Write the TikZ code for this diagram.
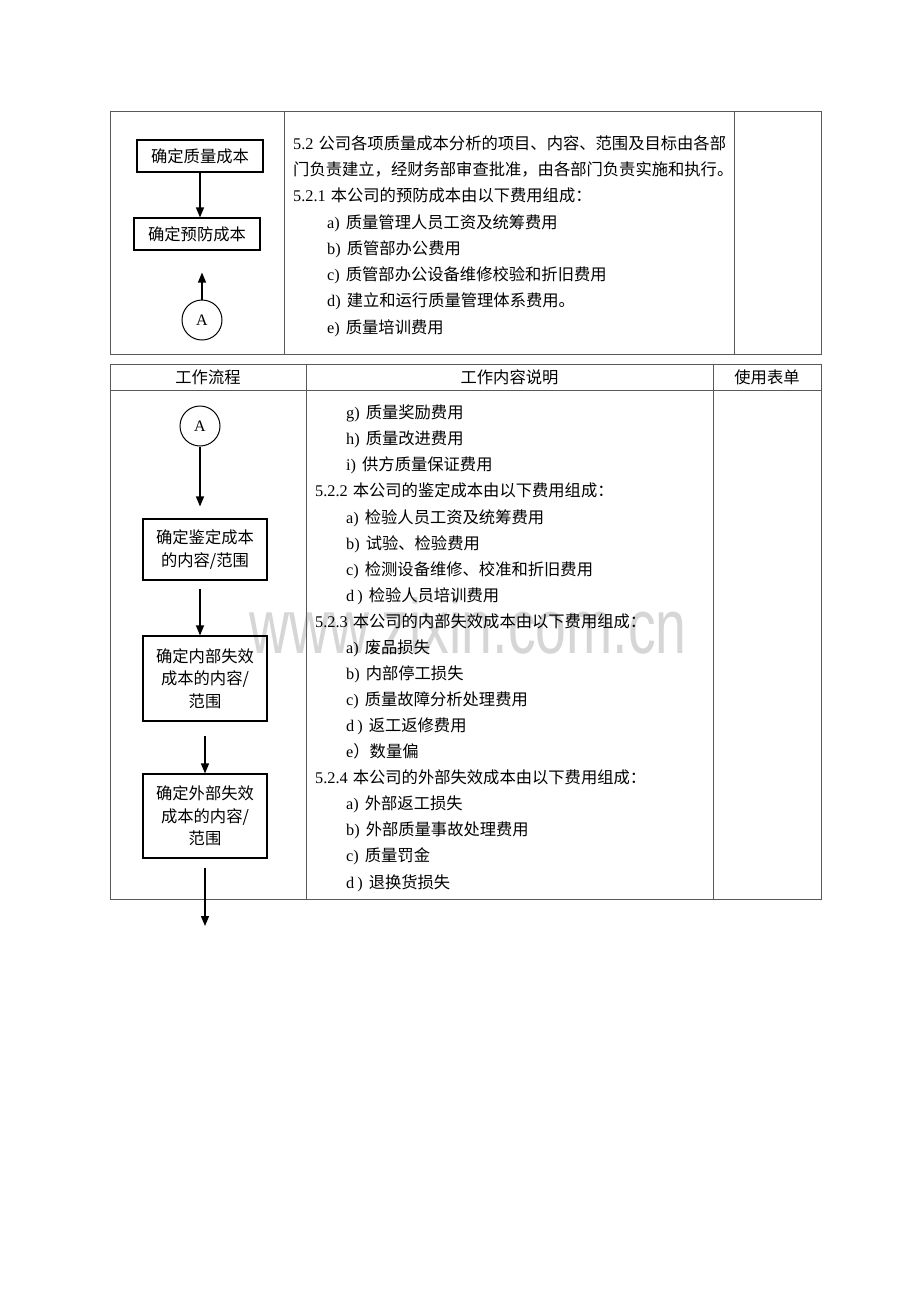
\documentclass[tikz,border=0pt]{standalone}
\usepackage{fontspec}
\setmainfont{Liberation Serif}
\newfontfamily\cjk{Noto Sans CJK SC}
\newfontfamily\wmfont{Liberation Sans}
\usetikzlibrary{arrows.meta}
\newcommand{\C}[1]{{\cjk #1}}
\newcommand{\It}[2]{#1\hspace{6pt}{\cjk #2}}
\begin{document}
\begin{tikzpicture}[x=1pt,y=-1pt,
  tline/.style={draw=black!65, line width=1pt},
  fbox/.style={draw, line width=1.1pt, inner sep=0pt, align=center, font=\cjk\fontsize{16.3}{22.5}\selectfont},
  conn/.style={draw, line width=1pt, circle, minimum size=40pt, inner sep=0pt, font=\fontsize{16}{18}\selectfont},
  arr/.style={line width=1.3pt, -{Triangle[length=10pt,width=8pt]}},
  txt/.style={anchor=base west, inner sep=0pt, font=\fontsize{16.3}{20}\selectfont},
  hdr/.style={anchor=base, inner sep=0pt, font=\cjk\fontsize{16.3}{20}\selectfont},
  wm/.style={anchor=base, inner sep=0pt, text=black!16, font=\wmfont\fontsize{77}{77}\selectfont}]
\fill[white] (0,0) rectangle (920,1302);
\useasboundingbox (0,0) rectangle (920,1302);

% watermark
\node[wm] (wmark) at (468,653) {\scalebox{0.72}[1]{www.zixin.com.cn}};

% ---------- top table ----------
\draw[tline] (110,111) rectangle (821,354);
\draw[tline] (284,111) -- (284,354);
\draw[tline] (734,111) -- (734,354);

\node[fbox, minimum width=126pt, minimum height=32pt] (t1) at (200,156) {确定质量成本};
\node[fbox, minimum width=126pt, minimum height=32pt] (t2) at (197,234) {确定预防成本};
\node[conn] (A1) at (202,320) {A};
\draw[arr] (t1.south) -- (t1.south |- t2.north);
\draw[arr, shorten >=22pt] (A1.north) -- (A1.north |- t2.south);

\node[txt] (p1) at (293,149) {5.2\hspace{5pt}\C{公司各项质量成本分析的项目、内容、范围及目标由各部}};
\node[txt] (p2) at (293,175) {\C{门负责建立，经财务部审查批准，由各部门负责实施和执行。}};
\node[txt] (p3) at (293,201) {5.2.1\hspace{5pt}\C{本公司的预防成本由以下费用组成：}};
\node[txt] (p4) at (327,228) {\It{a)}{质量管理人员工资及统筹费用}};
\node[txt] (p5) at (327,254) {\It{b)}{质管部办公费用}};
\node[txt] (p6) at (327,280) {\It{c)}{质管部办公设备维修校验和折旧费用}};
\node[txt] (p7) at (327,306) {\It{d)}{建立和运行质量管理体系费用。}};
\node[txt] (p8) at (327,333) {\It{e)}{质量培训费用}};

% ---------- bottom table ----------
\draw[tline] (110,364) rectangle (821,899);
\draw[tline] (110,390) -- (821,390);
\draw[tline] (306,364) -- (306,899);
\draw[tline] (713,364) -- (713,899);

\node[hdr] (h1) at (208,383) {工作流程};
\node[hdr] (h2) at (509.5,383) {工作内容说明};
\node[hdr] (h3) at (767,383) {使用表单};

\node[conn] (A2) at (200,426) {A};
\node[fbox, minimum width=124pt, minimum height=61pt] (b1) at (205,549.5) {确定鉴定成本\\的内容/范围};
\node[fbox, minimum width=124pt, minimum height=85pt] (b2) at (205,678.5) {确定内部失效\\成本的内容/\\范围};
\node[fbox, minimum width=124pt, minimum height=84pt] (b3) at (205,816) {确定外部失效\\成本的内容/\\范围};
\coordinate (endpt) at (205,926);

\draw[arr, shorten >=12pt] (A2.south) -- (A2.south |- b1.north);
\draw[arr, shorten <=8pt] (A2 |- b1.south) -- (A2 |- b2.north);
\draw[arr, shorten <=14pt] (b2.south) -- (b3.north);
\draw[arr, shorten <=9pt] (b3.south) -- (endpt);

\node[txt] (q1) at (346,418) {\It{g)}{质量奖励费用}};
\node[txt] (q2) at (346,444) {\It{h)}{质量改进费用}};
\node[txt] (q3) at (346,470) {\It{i)}{供方质量保证费用}};
\node[txt] (q4) at (315,496) {5.2.2\hspace{5pt}\C{本公司的鉴定成本由以下费用组成：}};
\node[txt] (q5) at (346,523) {\It{a)}{检验人员工资及统筹费用}};
\node[txt] (q6) at (346,549) {\It{b)}{试验、检验费用}};
\node[txt] (q7) at (346,575) {\It{c)}{检测设备维修、校准和折旧费用}};
\node[txt] (q8) at (346,601) {\It{d\hspace{3pt})}{检验人员培训费用}};
\node[txt] (q9) at (315,627) {5.2.3\hspace{5pt}\C{本公司的内部失效成本由以下费用组成：}};
\node[txt] (q10) at (346,653) {\It{a)}{废品损失}};
\node[txt] (q11) at (346,679) {\It{b)}{内部停工损失}};
\node[txt] (q12) at (346,705) {\It{c)}{质量故障分析处理费用}};
\node[txt] (q13) at (346,731) {\It{d\hspace{3pt})}{返工返修费用}};
\node[txt] (q14) at (346,757) {e\C{）数量偏}};
\node[txt] (q15) at (315,783) {5.2.4\hspace{5pt}\C{本公司的外部失效成本由以下费用组成：}};
\node[txt] (q16) at (346,809) {\It{a)}{外部返工损失}};
\node[txt] (q17) at (346,835) {\It{b)}{外部质量事故处理费用}};
\node[txt] (q18) at (346,861) {\It{c)}{质量罚金}};
\node[txt] (q19) at (346,888) {\It{d\hspace{3pt})}{退换货损失}};
\end{tikzpicture}
\end{document}
